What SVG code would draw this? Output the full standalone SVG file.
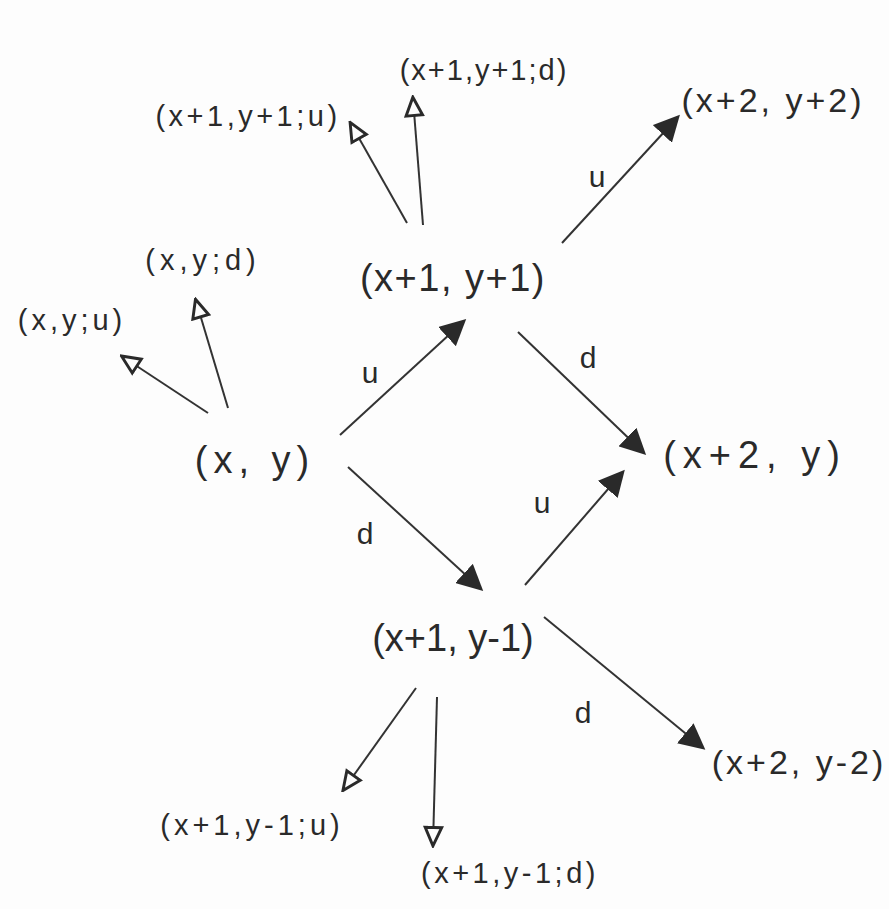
<svg xmlns="http://www.w3.org/2000/svg" width="889" height="909" viewBox="0 0 889 909">
<style>
.bg{fill:#fdfdfd}
.n{font-family:"Liberation Sans","DejaVu Sans",sans-serif;fill:#2a2a2a;text-anchor:middle;dominant-baseline:central}
.big{font-size:38px}
.mid{font-size:34px;letter-spacing:3px}
.sm{font-size:29px}
.lbl{font-family:"Liberation Sans","DejaVu Sans",sans-serif;fill:#2a2a2a;font-size:30px;text-anchor:middle;dominant-baseline:central}
.e{stroke:#333;stroke-width:2;fill:none}
.f{marker-end:url(#fill)}
.o{marker-end:url(#open)}
</style>
<defs>
<marker id="fill" viewBox="0 0 12 12" refX="10" refY="6" markerWidth="26" markerHeight="26" markerUnits="userSpaceOnUse" orient="auto">
<path d="M0,0 L12,6 L0,12 Z" fill="#2a2a2a"/>
</marker>
<marker id="open" viewBox="0 0 12 12" refX="10" refY="6" markerWidth="22" markerHeight="22" markerUnits="userSpaceOnUse" orient="auto">
<path d="M1,1.5 L11,6 L1,10.5 Z" fill="#fdfdfd" stroke="#2a2a2a" stroke-width="1.6"/>
</marker>
</defs>
<rect class="bg" x="0" y="0" width="889" height="909"/>
<g id="connectors">
<line class="e f" x1="340" y1="435" x2="463" y2="322"/>
<line class="e f" x1="518" y1="332" x2="643" y2="452"/>
<line class="e f" x1="348" y1="467" x2="480" y2="588"/>
<line class="e f" x1="525" y1="585" x2="622" y2="473"/>
<line class="e f" x1="544" y1="617" x2="702" y2="747"/>
<line class="e f" x1="562" y1="243" x2="677" y2="118"/>
<line class="e o" x1="407" y1="223" x2="351" y2="124"/>
<line class="e o" x1="423" y1="225" x2="413" y2="99"/>
<line class="e o" x1="208" y1="413" x2="123" y2="357"/>
<line class="e o" x1="228" y1="408" x2="196" y2="301"/>
<line class="e o" x1="416" y1="688" x2="344" y2="789"/>
<line class="e o" x1="437" y1="697" x2="433" y2="844"/>
<text class="lbl" x="370" y="372">u</text>
<text class="lbl" x="588" y="357">d</text>
<text class="lbl" x="365" y="533">d</text>
<text class="lbl" x="542" y="502">u</text>
<text class="lbl" x="583" y="712">d</text>
<text class="lbl" x="597" y="176">u</text>
</g>
<g id="n_xy"><text class="n big" x="255" y="460" letter-spacing="6">(x, y)</text></g>
<g id="n_x1y1"><text class="n big" x="453" y="278" letter-spacing="1.5">(x+1, y+1)</text></g>
<g id="n_x1ym1"><text class="n big" x="453" y="638">(x+1, y-1)</text></g>
<g id="n_x2y"><text class="n big" x="755" y="455" letter-spacing="7">(x+2, y)</text></g>
<g id="n_x2y2"><text class="n mid" x="773" y="100">(x+2, y+2)</text></g>
<g id="n_x2ym2"><text class="n mid" x="799" y="762">(x+2, y-2)</text></g>
<g id="n_xyu"><text class="n sm" x="72" y="320" letter-spacing="4">(x,y;u)</text></g>
<g id="n_xyd"><text class="n sm" x="203" y="260" letter-spacing="5">(x,y;d)</text></g>
<g id="n_x1y1u"><text class="n sm" x="248" y="116" letter-spacing="3.5">(x+1,y+1;u)</text></g>
<g id="n_x1y1d"><text class="n sm" x="484" y="70" letter-spacing="2">(x+1,y+1;d)</text></g>
<g id="n_x1ym1u"><text class="n sm" x="252" y="825" letter-spacing="4">(x+1,y-1;u)</text></g>
<g id="n_x1ym1d"><text class="n sm" x="510" y="873" letter-spacing="3.5">(x+1,y-1;d)</text></g>
</svg>
